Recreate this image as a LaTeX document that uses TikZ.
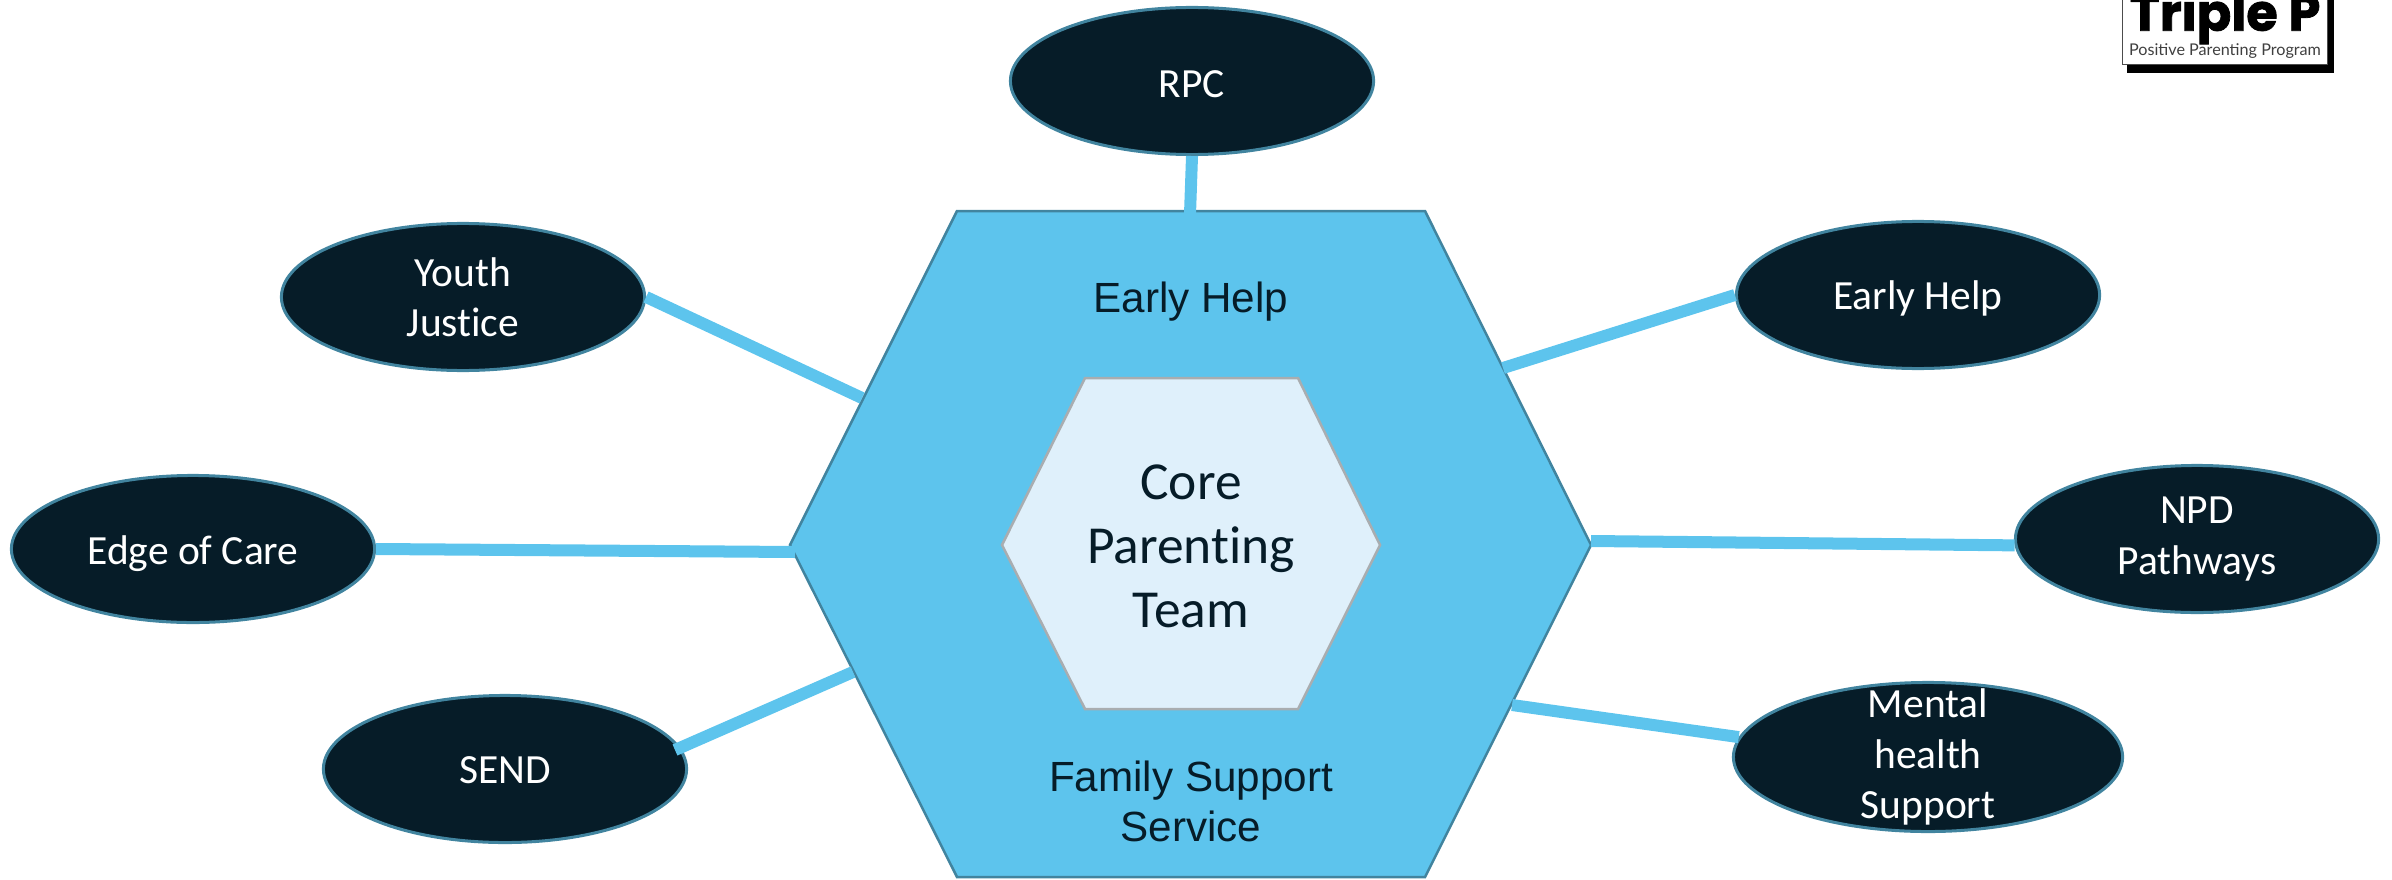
\documentclass[tikz,border=0pt]{standalone}
\usepackage{fontspec}
\setmainfont[Ligatures=NoCommon]{Carlito}
\newfontfamily\arialfont{Liberation Sans}
\newfontfamily\logofont[BoldFeatures={FakeBold=1.5}]{Poppins}
\newfontfamily\taglinefont{Lato}
\usetikzlibrary{shapes.geometric}
\definecolor{inkblue}{HTML}{061C28}
\definecolor{edgeblue}{HTML}{41849F}
\definecolor{skyblue}{HTML}{5DC4ED}
\definecolor{paleblue}{HTML}{DFF0FB}
\definecolor{hexgrey}{HTML}{A9ADB0}
\tikzset{
  oval/.style={ellipse, draw=edgeblue, line width=0.03cm, fill=inkblue, text=white,
    minimum width=3.63cm, minimum height=1.47cm, inner sep=-0.9cm, align=center,
    font=\fontsize{11.8}{14.3}\selectfont},
  drop/.style={execute at begin node={\rule{0pt}{#1}}},
  link/.style={skyblue, line width=0.12cm},
  hexlabel/.style={text=inkblue, align=center, font=\arialfont\fontsize{12}{14.2}\selectfont}
}
\begin{document}
\begin{tikzpicture}[x=0.01cm, y=-0.01cm]
      \useasboundingbox (0, 0) rectangle (2392, 879);
      \draw [edgeblue, line width=0.025cm, fill=skyblue]
            (957, 211) -- (1425, 211) -- (1591, 545) -- (1425, 877)
            -- (957, 877) -- (790, 545) -- cycle;
      \draw [hexgrey, line width=0.025cm, fill=paleblue]
            (1085, 378) -- (1298, 378) -- (1380, 545) -- (1298, 709)
            -- (1085, 709) -- (1002, 545) -- cycle;
      \node (core) [text=inkblue, align=center, font=\fontsize{15.2}{18.2}\selectfont] at (1191, 546) {Core\\Parenting\\Team};
      \node (help) [hexlabel] at (1191, 302) {Early Help};
      \node (family) [hexlabel] at (1191, 801) {Family Support\\Service};
      \node (rpc) [oval, drop=0.33cm] at (1192, 81) {RPC};
      \node (youth) [oval, drop=0.33cm] at (463, 297) {Youth\\Justice};
      \node (edge) [oval, drop=0.39cm] at (193, 549) {Edge of Care};
      \node (send) [oval, drop=0.3cm] at (505, 769) {SEND};
      \node (early) [oval, drop=0.36cm] at (1918, 295) {Early Help};
      \node (npd) [oval, drop=0.4cm] at (2197, 539) {NPD\\Pathways};
      \node (mental) [oval, drop=0.45cm, minimum width=3.89cm, minimum height=1.49cm] at (1928, 757) {Mental\\health\\Support};
      \coordinate (sendend) at (675, 750);
      \coordinate (rpcend) at (1190, 214);
      \coordinate (youthend) at (862, 398);
      \coordinate (edgeend) at (795, 552);
      \coordinate (sendhex) at (853, 672);
      \coordinate (earlyend) at (1503, 368);
      \coordinate (npdend) at (1591, 541);
      \coordinate (mentalend) at (1512, 705);
      \draw [link] (rpc.south) -- (rpcend);
      \draw [link] (youth.east) -- (youthend);
      \draw [link] (edge.east) -- (edgeend);
      \draw [link] (sendend) -- (sendhex);
      \draw [link] (early.west) -- (earlyend);
      \draw [link] (npd.182) -- (npdend);
      \draw [link] (mental.174) -- (mentalend);
      \fill [black] (2127, 0) rectangle (2334, 73);
      \draw [black!70, line width=0.008cm, fill=white] (2122, -3) rectangle (2327, 64);
      \node (logo) [inner sep=0, font=\logofont\bfseries\fontsize{14.5}{15}\selectfont] at (2225, 17) {Triple P};
      \node (tagline) [inner sep=0, text=black!75, font=\taglinefont\fontsize{4.6}{6}\selectfont] at (2225, 51) {Positive Parenting Program};
      \end{tikzpicture}
\end{document}
